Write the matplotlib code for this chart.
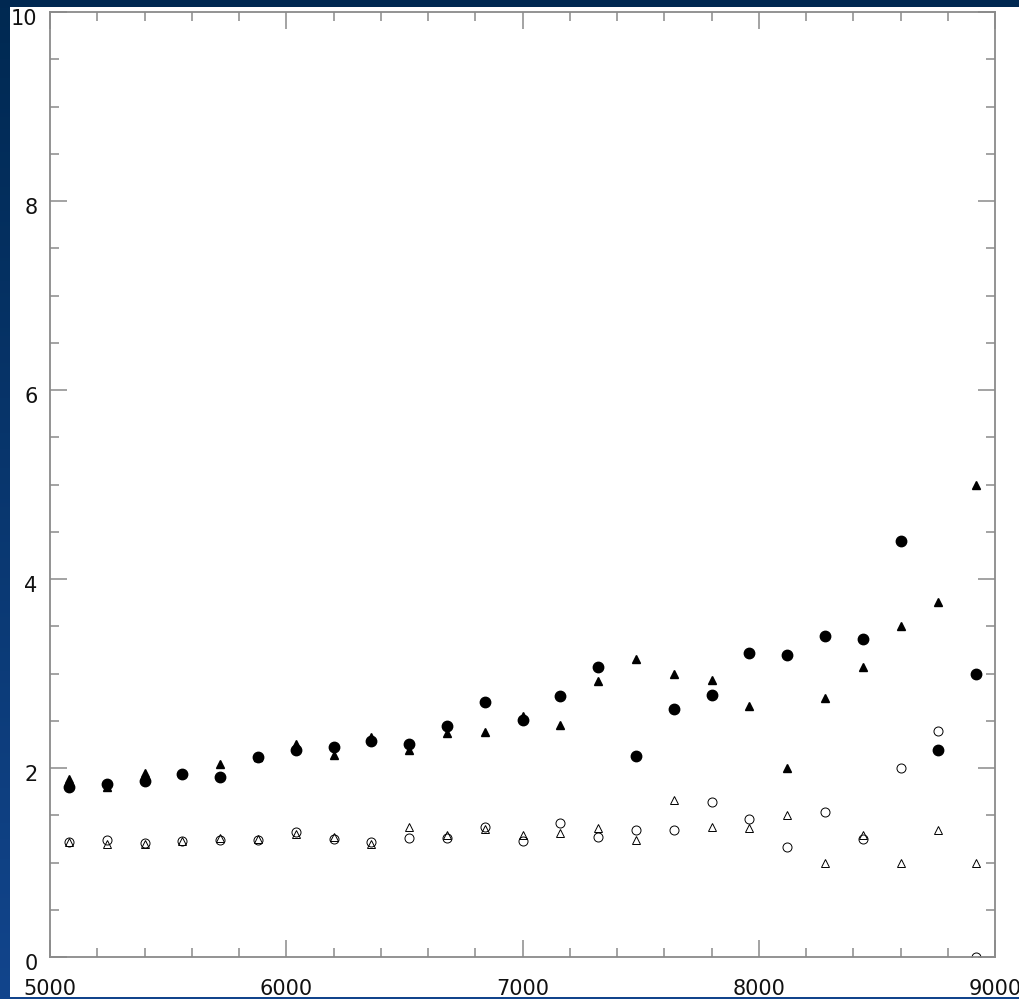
import numpy as np
import matplotlib
matplotlib.use("Agg")
import matplotlib.pyplot as plt
from matplotlib.patches import Rectangle
from matplotlib.ticker import MultipleLocator
from matplotlib.transforms import ScaledTranslation

# wavelengths (x) and the four series
wave = [5080, 5240, 5400, 5560, 5720, 5880, 6040, 6200, 6360, 6520, 6680, 6840, 7000,
        7160, 7320, 7480, 7640, 7800, 7960, 8120, 8280, 8440, 8600, 8760, 8920]
filled_circ = [1.80, 1.83, 1.86, 1.94, 1.90, 2.12, 2.19, 2.22, 2.29, 2.25, 2.44, 2.70, 2.51,
               2.76, 3.07, 2.13, 2.62, 2.77, 3.22, 3.20, 3.40, 3.36, 4.40, 2.19, 2.99]
filled_tri = [1.88, 1.80, 1.95, 1.95, 2.04, 2.12, 2.25, 2.14, 2.33, 2.19, 2.37, 2.38, 2.55,
              2.45, 2.92, 3.15, 3.00, 2.93, 2.66, 2.00, 2.74, 3.07, 3.50, 3.76, 5.00]
open_circ = [1.22, 1.24, 1.21, 1.23, 1.24, 1.24, 1.32, 1.25, 1.22, 1.26, 1.26, 1.38, 1.23,
             1.42, 1.27, 1.34, 1.34, 1.64, 1.46, 1.16, 1.53, 1.25, 2.00, 2.39, 0.00]
open_tri = [1.22, 1.20, 1.20, 1.23, 1.26, 1.25, 1.30, 1.27, 1.20, 1.38, 1.29, 1.35, 1.29,
            1.31, 1.36, 1.24, 1.66, 1.38, 1.37, 1.50, 1.00, 1.29, 1.00, 1.34, 1.00]

fig = plt.figure(figsize=(10.2, 9.99), dpi=100)

# blue slide background
bg = fig.add_axes([0, 0, 1, 1], zorder=-10)
grad = np.linspace(0, 1, 256).reshape(-1, 1)
top_c = np.array([0.0, 0.16, 0.32])
bot_c = np.array([0.07, 0.27, 0.55])
img = top_c + (bot_c - top_c) * grad[:, :, None] * np.ones((1, 2, 1))
bg.imshow(img, aspect="auto", extent=[0, 1, 0, 1], origin="upper")
bg.axis("off")
fig.patches.append(Rectangle((10 / 1020, 2 / 999), 1.0, 990 / 999,
                             transform=fig.transFigure, facecolor="white",
                             edgecolor="none", zorder=-5))

ax = fig.add_axes([50 / 1020, 42 / 999, 945 / 1020, 945 / 999])
ax.set_facecolor("white")

ax.plot(wave, filled_circ, "o", color="black", ms=7.5, clip_on=False)
ax.plot(wave, filled_tri, "^", color="black", ms=6, clip_on=False)
ax.plot(wave, open_circ, "o", mfc="none", mec="black", mew=0.7, ms=6.5, clip_on=True)
ax.plot(wave, open_tri, "^", mfc="none", mec="black", mew=0.7, ms=6, clip_on=False)

ax.set_xlim(5000, 9000)
ax.set_ylim(0, 10)
ax.xaxis.set_major_locator(MultipleLocator(1000))
ax.xaxis.set_minor_locator(MultipleLocator(200))
ax.yaxis.set_major_locator(MultipleLocator(2))
ax.yaxis.set_minor_locator(MultipleLocator(0.5))

for s in ax.spines.values():
    s.set_color("#8a8a8a")
    s.set_linewidth(1.3)

ax.tick_params(which="both", direction="in", top=True, right=True,
               color="#8a8a8a", width=1.1, labelsize=15, labelcolor="#111111")
ax.tick_params(which="major", length=12)
ax.tick_params(which="minor", length=6.5)
ax.tick_params(axis="x", pad=16)
ax.tick_params(axis="y", pad=9)

# y labels sit a little below their ticks in the original
shift = ScaledTranslation(0, -5 / 100, fig.dpi_scale_trans)
for lab in ax.yaxis.get_majorticklabels():
    lab.set_transform(lab.get_transform() + shift)
for lab in ax.get_xticklabels() + ax.get_yticklabels():
    lab.set_family("DejaVu Sans")

fig.savefig("out.png", dpi=100, facecolor=fig.get_facecolor())
